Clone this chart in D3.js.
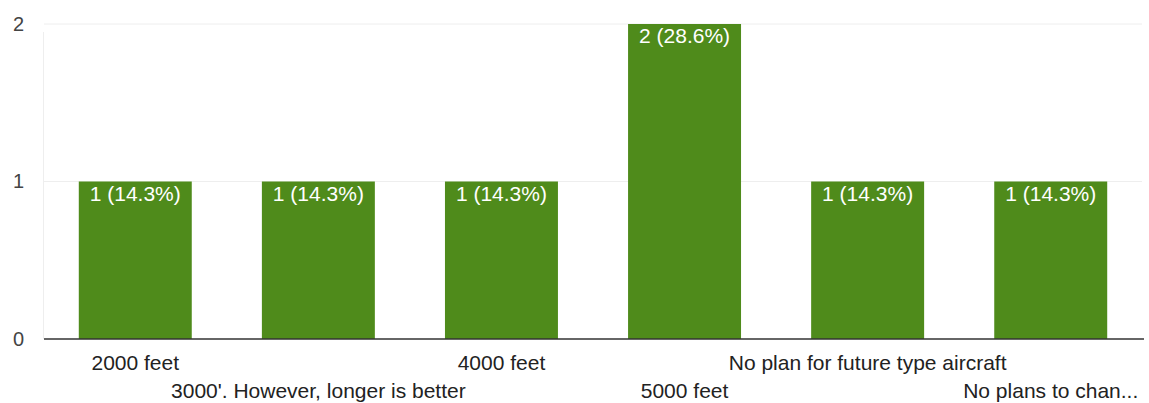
<!DOCTYPE html>
<html>
<head>
<meta charset="utf-8">
<script src="https://cdn.jsdelivr.net/npm/d3@7"></script>
<style>
  html, body { margin: 0; padding: 0; background: #fff; }
  svg { display: block; }
  text { font-family: "Liberation Sans", Arial, sans-serif; }
</style>
</head>
<body>
<svg id="chart" width="1149" height="403"></svg>
<script>
const categories = ["2000 feet", "3000'. However, longer is better", "4000 feet", "5000 feet", "No plan for future type aircraft", "No plans to chan..."];
const counts = [1, 1, 1, 2, 1, 1];
const percents = ["14.3%", "14.3%", "14.3%", "28.6%", "14.3%", "14.3%"];
const yTicks = [0, 1, 2];

const W = 1149, H = 403;
const margin = { left: 44, right: 7, top: 24, bottom: 64 };
const svg = d3.select("#chart");

const x = d3.scaleBand()
  .domain(categories)
  .range([margin.left, W - margin.right])
  .paddingInner(0.383)
  .paddingOuter(0.19);

const y = d3.scaleLinear()
  .domain([0, 2])
  .range([H - margin.bottom, margin.top]);

// gridlines
svg.append("g")
  .selectAll("line")
  .data(yTicks.filter(d => d > 0))
  .join("line")
  .attr("x1", margin.left).attr("x2", W - margin.right)
  .attr("y1", d => y(d)).attr("y2", d => y(d))
  .attr("stroke", "#eeeeee").attr("stroke-width", 1);

// faint left axis line
svg.append("line")
  .attr("x1", margin.left - 0.5).attr("x2", margin.left - 0.5)
  .attr("y1", y(2) + 8).attr("y2", y(0))
  .attr("stroke", "#eeeeee");

// y labels
const yAxis = d3.axisLeft(y).tickValues(yTicks).tickFormat(d3.format("d")).tickSize(0).tickPadding(20);
const ya = svg.append("g").attr("transform", `translate(${margin.left},0)`).call(yAxis);
ya.select(".domain").remove();
ya.selectAll("text")
  .attr("font-size", 20)
  .attr("font-family", "Liberation Sans, Arial, sans-serif")
  .attr("fill", "#444");

// bars
svg.append("g")
  .selectAll("rect")
  .data(categories)
  .join("rect")
  .attr("x", d => x(d))
  .attr("width", x.bandwidth())
  .attr("y", (d, i) => y(counts[i]))
  .attr("height", (d, i) => y(0) - y(counts[i]))
  .attr("fill", "#4f8b1b");

// bar labels
svg.append("g")
  .selectAll("text")
  .data(categories)
  .join("text")
  .attr("x", d => x(d) + x.bandwidth() / 2)
  .attr("y", (d, i) => y(counts[i]) + 19)
  .attr("text-anchor", "middle")
  .attr("font-size", 21)
  .attr("fill", "#ffffff")
  .text((d, i) => `${counts[i]} (${percents[i]})`);

// baseline
svg.append("line")
  .attr("x1", margin.left).attr("x2", W - margin.right + 2)
  .attr("y1", y(0)).attr("y2", y(0))
  .attr("stroke", "#333").attr("stroke-width", 1.5);

// x labels, staggered
const xAxis = d3.axisBottom(x).tickSize(0).tickPadding(0);
const xa = svg.append("g").attr("transform", `translate(0,${y(0)})`).call(xAxis);
xa.select(".domain").remove();
xa.selectAll("text")
  .attr("font-size", 21)
  .attr("font-family", "Liberation Sans, Arial, sans-serif")
  .attr("fill", "#222")
  .attr("dy", null)
  .attr("y", (d, i) => i % 2 === 0 ? 31 : 59);
</script>
</body>
</html>
